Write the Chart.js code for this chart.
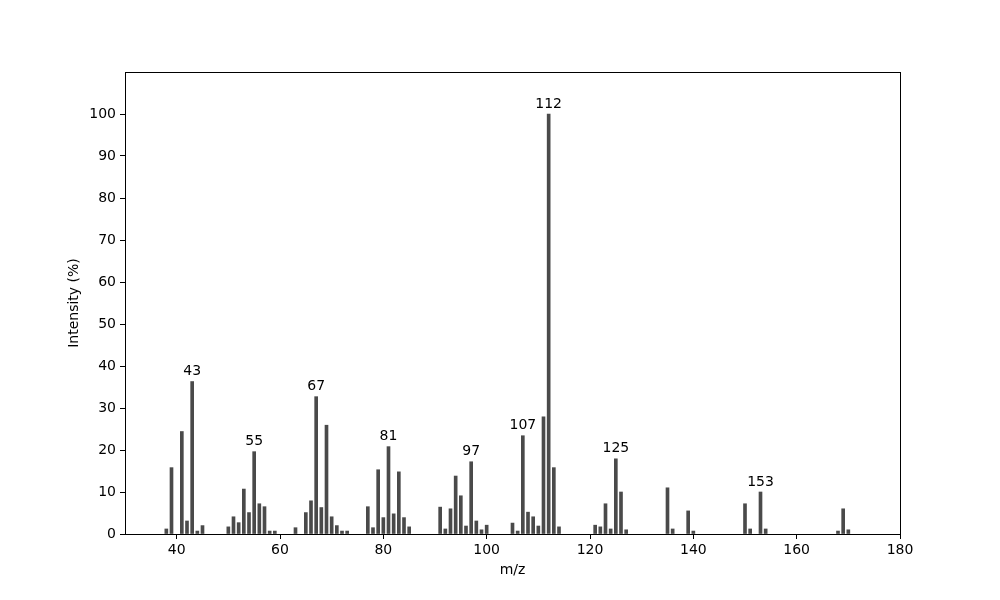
<html>
<head>
    <meta charset="UTF-8">
    <title>Mass Spectrum</title>
    <script src="https://cdn.jsdelivr.net/npm/chart.js@4.4.1/dist/chart.umd.min.js"></script>
    <style>
        body { margin: 0; background: #fff; }
        #wrap { width: 1000px; height: 600px; }
    </style>
</head>
<body>
<div id="wrap"><canvas id="spec" width="1000" height="600"></canvas></div>

<script>
    // m/z values and relative intensity (%)
    var mz = [38, 39, 41, 42, 43, 44, 45,
        50, 51, 52, 53, 54, 55, 56, 57, 58, 59,
        63, 65, 66, 67, 68, 69, 70, 71, 72, 73,
        77, 78, 79, 80, 81, 82, 83, 84, 85,
        91, 92, 93, 94, 95, 96, 97, 98, 99, 100,
        105, 106, 107, 108, 109, 110, 111, 112, 113, 114,
        121, 122, 123, 124, 125, 126, 127,
        135, 136, 139, 140,
        150, 151, 153, 154,
        168, 169, 170];
    var intensity = [1.2, 15.8, 24.4, 3.1, 36.3, 0.7, 2.0,
        1.7, 4.1, 2.7, 10.7, 5.1, 19.6, 7.2, 6.5, 0.7, 0.7,
        1.5, 5.1, 7.9, 32.7, 6.3, 25.9, 4.1, 2.0, 0.7, 0.7,
        6.5, 1.5, 15.3, 3.9, 20.8, 4.8, 14.8, 3.9, 1.7,
        6.4, 1.2, 6.0, 13.8, 9.1, 1.9, 17.2, 3.1, 1.0, 2.1,
        2.6, 0.7, 23.4, 5.2, 4.1, 1.9, 27.9, 100, 15.8, 1.7,
        2.1, 1.7, 7.2, 1.2, 17.9, 10.0, 1.0,
        11.0, 1.2, 5.5, 0.7,
        7.2, 1.2, 10.0, 1.2,
        0.7, 6.0, 1.0];
    var peakLabels = [43, 55, 67, 81, 97, 107, 112, 125, 153];
    var xTicks = [40, 60, 80, 100, 120, 140, 160, 180];
    var yTicks = [0, 10, 20, 30, 40, 50, 60, 70, 80, 90, 100];

    var points = [];
    for (var i = 0; i < mz.length; i++) {
        points.push({x: mz[i], y: intensity[i]});
    }

    Chart.defaults.font.family = "'DejaVu Sans', sans-serif";
    Chart.defaults.font.size = 14;
    Chart.defaults.color = '#000';

    // box round the plot area, like matplotlib's spines
    var frame = {
        id: 'frame',
        afterDraw: function (chart) {
            var a = chart.chartArea, ctx = chart.ctx;
            ctx.save();
            ctx.strokeStyle = '#000';
            ctx.lineWidth = 1;
            ctx.strokeRect(Math.round(a.left) + 0.5, Math.round(a.top) + 0.5,
                Math.round(a.right - a.left), Math.round(a.bottom - a.top));
            ctx.restore();
        }
    };

    // numbers over the main peaks
    var peakText = {
        id: 'peakText',
        afterDatasetsDraw: function (chart) {
            var ctx = chart.ctx;
            var meta = chart.getDatasetMeta(0);
            ctx.save();
            ctx.font = "14px 'DejaVu Sans', sans-serif";
            ctx.fillStyle = '#000';
            ctx.textAlign = 'center';
            ctx.textBaseline = 'bottom';
            peakLabels.forEach(function (p) {
                var idx = mz.indexOf(p);
                if (idx < 0) return;
                var bar = meta.data[idx];
                ctx.fillText(String(p), bar.x, bar.y - 3);
            });
            ctx.restore();
        }
    };

    var ctx = document.getElementById('spec');
    var myChart = new Chart(ctx, {
        type: 'bar',
        data: {
            datasets: [{
                label: 'intensity',
                data: points,
                backgroundColor: '#4a4a4a',
                borderWidth: 0,
                barThickness: 3
            }]
        },
        options: {
            responsive: false,
            animation: false,
            layout: {padding: {left: 0, right: 100, top: 72, bottom: 0}},
            plugins: {legend: {display: false}, tooltip: {enabled: false}},
            scales: {
                x: {
                    type: 'linear',
                    min: 30,
                    max: 180,
                    offset: false,
                    afterBuildTicks: function (s) {
                        s.ticks = xTicks.map(function (v) { return {value: v}; });
                    },
                    afterFit: function (s) { s.height = 66; },
                    grid: {display: true, offset: false, drawOnChartArea: false, drawTicks: true, tickLength: 5, color: '#000'},
                    border: {display: false},
                    ticks: {padding: 3, maxRotation: 0},
                    title: {display: true, text: 'm/z', padding: {top: 0, bottom: 21}}
                },
                y: {
                    min: 0,
                    max: 110,
                    afterBuildTicks: function (s) {
                        s.ticks = yTicks.map(function (v) { return {value: v}; });
                    },
                    afterFit: function (s) { s.width = 125; },
                    grid: {display: true, drawOnChartArea: false, drawTicks: true, tickLength: 5, color: '#000'},
                    border: {display: false},
                    ticks: {padding: 4},
                    title: {display: true, text: 'Intensity (%)', padding: {top: 66, bottom: 0}}
                }
            }
        },
        plugins: [frame, peakText]
    });
</script>
</body>
</html>
